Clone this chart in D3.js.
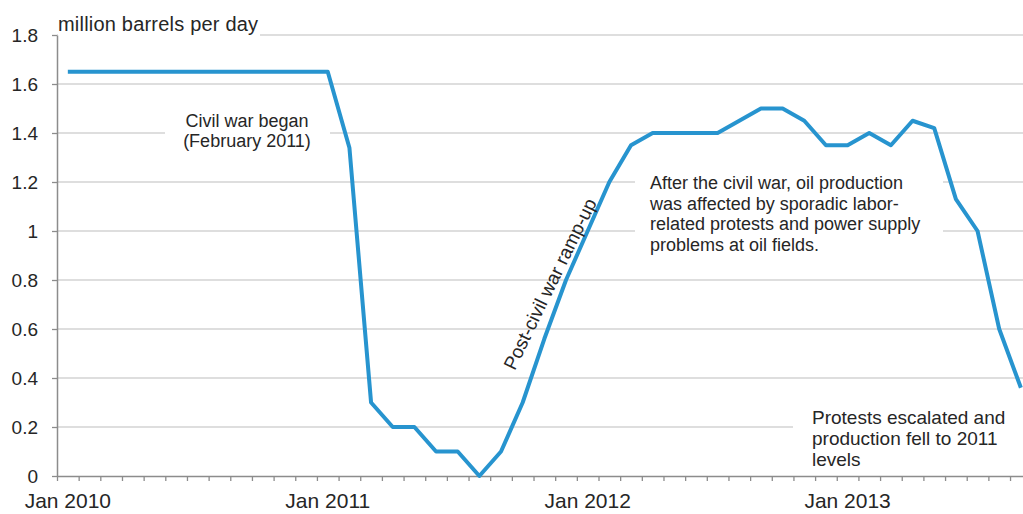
<!DOCTYPE html>
<html>
<head>
<meta charset="utf-8">
<script src="https://cdn.jsdelivr.net/npm/d3@7"></script>
<style>
  html, body { margin: 0; padding: 0; background: #fff; }
  svg { display: block; }
  text { font-family: "Liberation Sans", Arial, sans-serif; fill: #262626; }
</style>
</head>
<body>
<svg id="chart" width="1023" height="514"></svg>
<script>
// Libya crude oil production, monthly (million barrels per day)
const months = [
  "2010-01","2010-02","2010-03","2010-04","2010-05","2010-06","2010-07","2010-08","2010-09","2010-10","2010-11","2010-12",
  "2011-01","2011-02","2011-03","2011-04","2011-05","2011-06","2011-07","2011-08","2011-09","2011-10","2011-11","2011-12",
  "2012-01","2012-02","2012-03","2012-04","2012-05","2012-06","2012-07","2012-08","2012-09","2012-10","2012-11","2012-12",
  "2013-01","2013-02","2013-03","2013-04","2013-05","2013-06","2013-07","2013-08","2013-09"
];
const production = [
  1.65,1.65,1.65,1.65,1.65,1.65,1.65,1.65,1.65,1.65,1.65,1.65,
  1.65,1.34,0.30,0.20,0.20,0.10,0.10,0.00,0.10,0.30,0.56,0.80,
  1.00,1.20,1.35,1.40,1.40,1.40,1.40,1.45,1.50,1.50,1.45,1.35,
  1.35,1.40,1.35,1.45,1.42,1.13,1.00,0.60,0.36
];
const yTicks = [0, 0.2, 0.4, 0.6, 0.8, 1, 1.2, 1.4, 1.6, 1.8];
const yTickLabels = ["0","0.2","0.4","0.6","0.8","1","1.2","1.4","1.6","1.8"];
const xLabelMonths = ["2010-01","2011-01","2012-01","2013-01"];
const xLabelText = ["Jan 2010","Jan 2011","Jan 2012","Jan 2013"];
const unitLabel = "million barrels per day";

const svg = d3.select("#chart");
const plotLeft = 57, plotBottom = 476, plotTop = 35, monthW = 21.66;
const plotRight = plotLeft + monthW * months.length;

const x = d3.scaleBand().domain(months).range([plotLeft, plotRight]).padding(0);
const xEdge = d3.scaleLinear().domain([0, months.length]).range([plotLeft, plotRight]);
const y = d3.scaleLinear().domain([0, 1.8]).range([plotBottom, plotTop]);

// horizontal gridlines
svg.append("g")
  .selectAll("line")
  .data(yTicks.filter(d => d > 0))
  .join("line")
  .attr("x1", plotLeft).attr("x2", 1023)
  .attr("y1", d => y(d)).attr("y2", d => y(d))
  .attr("stroke", "#d3d3d3").attr("stroke-width", 1.5);

// white backing boxes behind annotations
const boxes = [
  {x0: 58, x1: 260, y0: 12, y1: 42},
  {x0: 165, x1: 330, y0: 108, y1: 156},
  {x0: 635, x1: 943, y0: 168, y1: 262},
  {x0: 793, x1: 1023, y0: 404, y1: 472}
];
svg.append("g").selectAll("rect").data(boxes).join("rect")
  .attr("x", d => d.x0).attr("y", d => d.y0)
  .attr("width", d => d.x1 - d.x0).attr("height", d => d.y1 - d.y0)
  .attr("fill", "#fff");

// y axis
const yAxis = svg.append("g")
  .attr("transform", `translate(${plotLeft},0)`)
  .call(d3.axisLeft(y).tickValues(yTicks)
    .tickFormat((d, i) => yTickLabels[i])
    .tickSize(5).tickSizeOuter(0).tickPadding(14));
yAxis.select(".domain").attr("stroke", "#8c8c8c").attr("stroke-width", 1.5);
yAxis.selectAll(".tick line").attr("stroke", "#8c8c8c").attr("stroke-width", 1.3);
yAxis.selectAll(".tick text").style("font-size", "19px").attr("fill", "#262626");

// x axis: month boundary ticks
const xAxis = svg.append("g")
  .attr("transform", `translate(0,${plotBottom})`)
  .call(d3.axisBottom(xEdge).tickValues(d3.range(0, months.length + 1))
    .tickFormat("").tickSize(5).tickSizeOuter(0));
xAxis.select(".domain").attr("stroke", "#8c8c8c").attr("stroke-width", 1.5);
xAxis.selectAll(".tick line").attr("stroke", "#8c8c8c").attr("stroke-width", 1.3);

// x axis: January labels centred on their months
const xLab = svg.append("g")
  .attr("transform", `translate(0,${plotBottom})`)
  .call(d3.axisBottom(x).tickValues(xLabelMonths)
    .tickFormat((d, i) => xLabelText[i]).tickSize(0).tickPadding(17));
xLab.select(".domain").remove();
xLab.selectAll(".tick text").style("font-size", "21px").attr("fill", "#262626");

// unit label
svg.append("text")
  .attr("x", 58).attr("y", 31)
  .style("font-size", "20px")
  .style("letter-spacing", "0.2px")
  .text(unitLabel);

// production line
svg.append("path")
  .datum(production)
  .attr("fill", "none")
  .attr("stroke", "#2794cf")
  .attr("stroke-width", 4)
  .attr("stroke-linejoin", "round")
  .attr("d", d3.line()
    .x((d, i) => x(months[i]) + x.bandwidth() / 2)
    .y(d => y(d)));

// annotations
function multiline(lines, px, py, lh, anchor, size) {
  const t = svg.append("text")
    .attr("text-anchor", anchor)
    .style("font-size", size + "px");
  lines.forEach((s, i) => {
    t.append("tspan").attr("x", px).attr("y", py + i * lh).text(s);
  });
  return t;
}
multiline(["Civil war began", "(February 2011)"], 247, 127, 20, "middle", 18);
multiline(["After the civil war, oil production",
           "was affected by sporadic labor-",
           "related protests and power supply",
           "problems at oil fields."], 650, 189, 20.7, "start", 18);
multiline(["Protests escalated and",
           "production fell to 2011",
           "levels"], 812, 424, 21, "start", 19);

svg.append("text")
  .attr("transform", "translate(550,284) rotate(-64)")
  .attr("text-anchor", "middle")
  .attr("dominant-baseline", "central")
  .style("font-size", "19px")
  .text("Post-civil war ramp-up");
</script>
</body>
</html>
